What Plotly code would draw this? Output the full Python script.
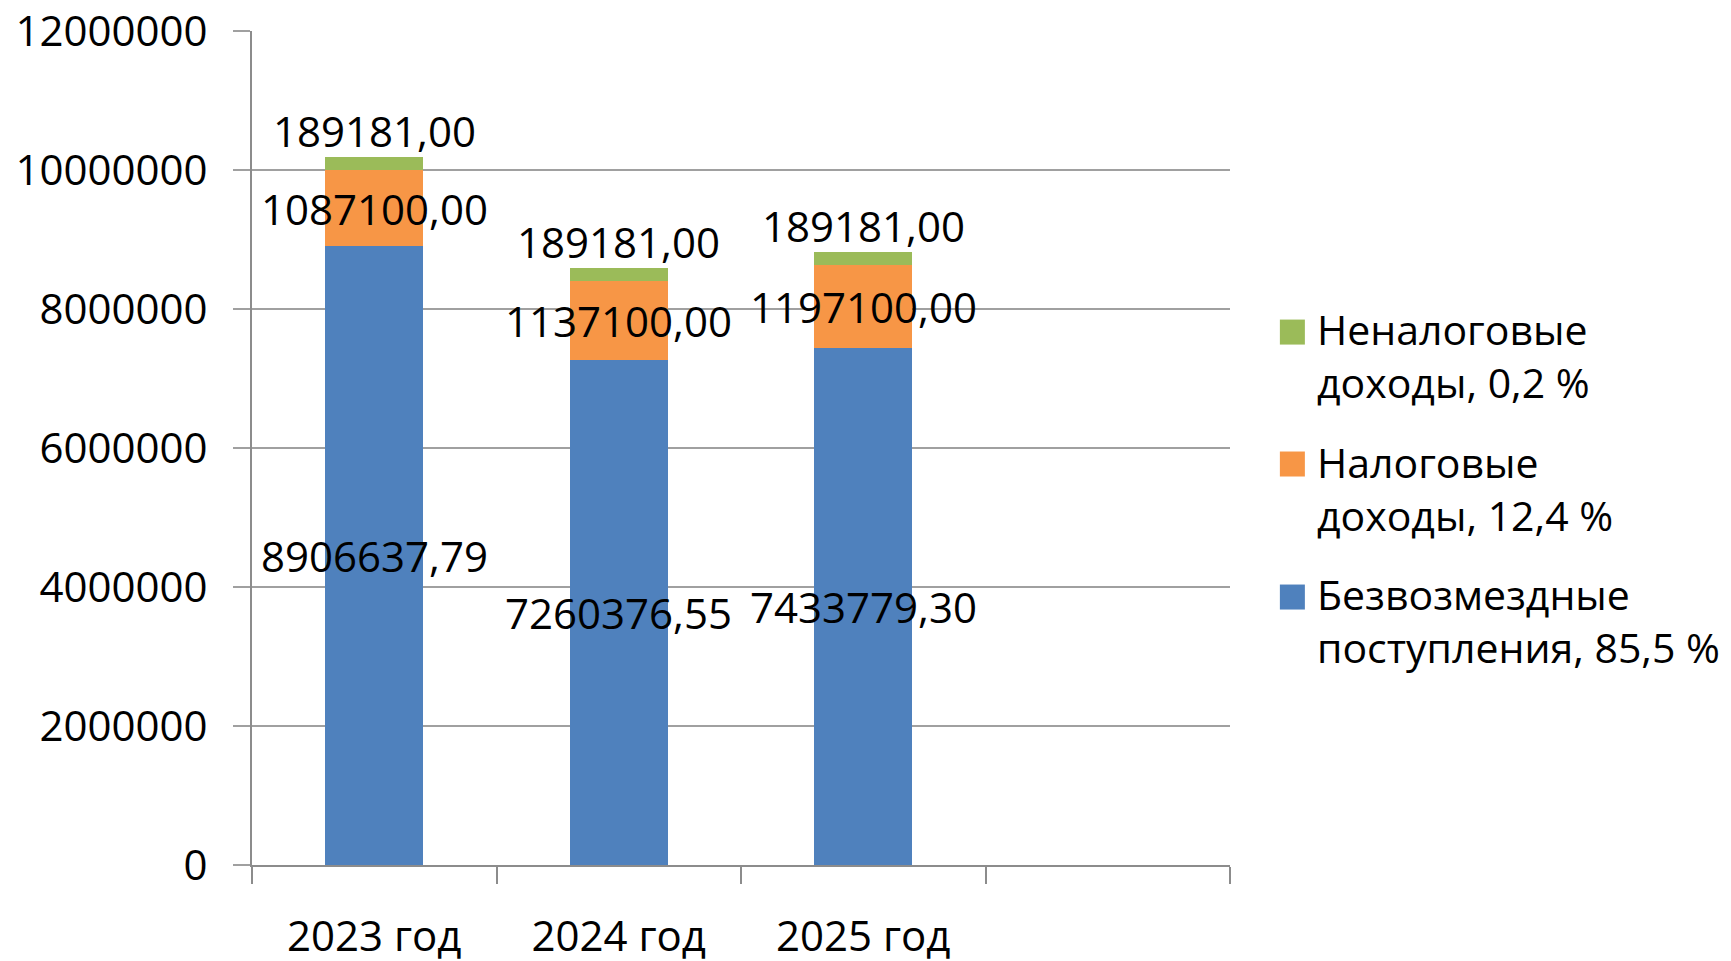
import plotly.graph_objects as go

categories = ["2023 год", "2024 год", "2025 год"]
extra_category = [" "]
series_names = ["Безвозмездные<br>поступления, 85,5 %",
                "Налоговые<br>доходы, 12,4 %",
                "Неналоговые<br>доходы, 0,2 %"]
bezvozmezdnye = [8906637.79, 7260376.55, 7433779.30]
nalogovye = [1087100.00, 1137100.00, 1197100.00]
nenalogovye = [189181.00, 189181.00, 189181.00]
label_blue = ["8906637,79", "7260376,55", "7433779,30"]
label_orange = ["1087100,00", "1137100,00", "1197100,00"]
label_green = ["189181,00", "189181,00", "189181,00"]
y_ticks = [0, 2000000, 4000000, 6000000, 8000000, 10000000, 12000000]

colors = ["#4F81BD", "#F79646", "#9BBB59"]
FONT = "Open Sans"
FS = 42

series = [bezvozmezdnye, nalogovye, nenalogovye]
labels = [label_blue, label_orange, label_green]

fig = go.Figure()
for name, vals, col in zip(series_names, series, colors):
    fig.add_trace(go.Bar(x=categories, y=vals, name=name, marker_color=col,
                         marker_line_width=0, width=0.4, showlegend=False))

annotations = []
base = [0.0] * len(categories)
for k, (vals, labs) in enumerate(zip(series, labels)):
    for i, c in enumerate(categories):
        mid = base[i] + vals[i] / 2
        annotations.append(dict(x=c, y=mid, xref="x", yref="y", text=labs[i],
                                showarrow=False, font=dict(family=FONT, size=FS, color="black"),
                                xanchor="center", yanchor="middle",
                                yshift=33 if k == 2 else 0))
    base = [b + v for b, v in zip(base, vals)]

# custom legend (top-to-bottom: green, orange, blue)
legend_rows = [(2, 0.6115, 0.639), (1, 0.452, 0.4808), (0, 0.2926, 0.3213)]
shapes = []
for idx, ytext, ysq in legend_rows:
    annotations.append(dict(x=1.087, y=ytext, xref="paper", yref="paper",
                            text=series_names[idx], showarrow=False, align="left",
                            xanchor="left", yanchor="middle",
                            font=dict(family=FONT, size=41, color="black")))
    shapes.append(dict(type="rect", xref="paper", yref="paper",
                       xsizemode="pixel", ysizemode="pixel",
                       xanchor=1.051, yanchor=ysq,
                       x0=0, x1=25, y0=-12.5, y1=12.5,
                       fillcolor=colors[idx], line=dict(width=0)))

fig.update_layout(
    width=1731, height=961,
    barmode="stack",
    plot_bgcolor="white", paper_bgcolor="white",
    margin=dict(l=244, r=509, t=23, b=104, autoexpand=False),
    font=dict(family=FONT, size=FS, color="black"),
    annotations=annotations,
    shapes=shapes,
    showlegend=False,
    xaxis=dict(type="category", categoryorder="array",
               categoryarray=categories + extra_category,
               range=[-0.5, 3.5], tickson="boundaries", automargin=False,
               ticks="outside", ticklen=17, tickcolor="#8C8C8C", tickwidth=2,
               showline=True, linecolor="#8C8C8C", linewidth=2,
               showgrid=False, ticklabelstandoff=34, ticklabeloverflow="allow",
               tickfont=dict(family=FONT, size=FS, color="black")),
    yaxis=dict(range=[0, 12000000], tickvals=y_ticks, automargin=False,
               ticktext=[str(v) for v in y_ticks],
               ticks="outside", ticklen=17, tickcolor="#A0A0A0", tickwidth=2,
               showline=True, linecolor="#8C8C8C", linewidth=2,
               showgrid=True, gridcolor="#A0A0A0", gridwidth=2,
               zeroline=False, ticklabelstandoff=17, ticklabeloverflow="allow",
               tickfont=dict(family=FONT, size=FS, color="black")),
)

fig.write_html("out.html")
